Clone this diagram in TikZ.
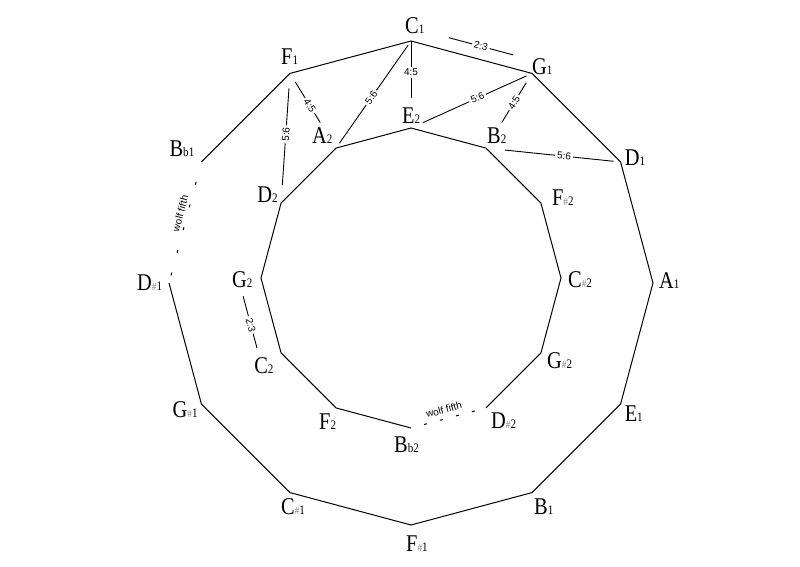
\documentclass[tikz,border=0pt]{standalone}
\usepackage{fontspec}
\setmainfont{Liberation Serif}[FakeStretch=0.85]
\setsansfont{Liberation Sans}
\usetikzlibrary{positioning,calc}

\newcommand\sub[1]{{\fontsize{13}{13}\selectfont #1}}
\newcommand\shp{{\color{gray}\fontsize{11}{11}\selectfont\#}}

\tikzset{
  note/.style={font=\fontsize{24}{24}\selectfont, anchor=base west, inner sep=1pt},
  ring/.style={line width=1pt},
  interval/.style={line width=0.9pt},
  ratio/.style={font=\sffamily\fontsize{10}{10}\selectfont, fill=white, inner sep=2pt},
  wolf/.style={line width=1pt, dash pattern=on 3pt off #1, dash phase=3pt},
  wolflabel/.style={font=\sffamily\fontsize{10}{10}\selectfont, inner sep=1pt},
}

\begin{document}
\begin{tikzpicture}[x=1pt, y=1pt]
  \useasboundingbox (-411,-283) rectangle (389,283);

  % outer circle
  \coordinate (oC) at (90:242);
  \coordinate (oG) at (60:242);
  \coordinate (oD) at (30:242);
  \coordinate (oA) at (0:242);
  \coordinate (oE) at (-30:242);
  \coordinate (oB) at (-60:242);
  \coordinate (oFs) at (-90:242);
  \coordinate (oCs) at (-120:242);
  \coordinate (oGs) at (-150:242);
  \coordinate (oDs) at (180:242);
  \coordinate (oBb) at (150:242);
  \coordinate (oF) at (120:242);

  % inner circle
  \begin{scope}[yshift=5pt]
    \coordinate (iE) at (90:150);
    \coordinate (iB) at (60:150);
    \coordinate (iFs) at (30:150);
    \coordinate (iCs) at (0:150);
    \coordinate (iGs) at (-30:150);
    \coordinate (iDs) at (-60:150);
    \coordinate (iBb) at (-90:150);
    \coordinate (iF) at (-120:150);
    \coordinate (iC) at (-150:150);
    \coordinate (iG) at (180:150);
    \coordinate (iD) at (150:150);
    \coordinate (iA) at (120:150);
  \end{scope}

  \node[note] (C1) at ([shift={(-7,8)}]oC) {C\sub1};
  \node[note] (G1) at ([shift={(-1,-1)}]oG) {G\sub1};
  \node[note] (D1) at ([shift={(3,-3)}]oD) {D\sub1};
  \node[note] (A1) at ([shift={(5,-5)}]oA) {A\sub1};
  \node[note] (E1) at ([shift={(3,-17)}]oE) {E\sub1};
  \node[note] (B1) at ([shift={(1,-22)}]oB) {B\sub1};
  \node[note] (Fs1) at ([shift={(-6,-26)}]oFs) {F\shp\sub1};
  \node[note] (Cs1) at ([shift={(-10,-22)}]oCs) {C\shp\sub1};
  \node[note] (Gs1) at ([shift={(-30,-13)}]oGs) {G\shp\sub1};
  \node[note] (Ds1) at ([shift={(-33,-7)}]oDs) {D\shp\sub1};
  \node[note] (Bb1) at ([shift={(-33,6)}]oBb) {B\sub{b1}};
  \node[note] (F1) at ([shift={(-10,9)}]oF) {F\sub1};

  \node[note] (E2) at ([shift={(-10,5)}]iE) {E\sub2};
  \node[note] (B2) at ([shift={(0,5)}]iB) {B\sub2};
  \node[note] (Fs2) at ([shift={(10,-2)}]iFs) {F\shp\sub2};
  \node[note] (Cs2) at ([shift={(6,-9)}]iCs) {C\shp\sub2};
  \node[note] (Gs2) at ([shift={(5,-15)}]iGs) {G\shp\sub2};
  \node[note] (Ds2) at ([shift={(4,-21)}]iDs) {D\shp\sub2};
  \node[note] (Bb2) at ([shift={(-18,-24)}]iBb) {B\sub{b2}};
  \node[note] (F2) at ([shift={(-18,-22)}]iF) {F\sub2};
  \node[note] (C2) at ([shift={(-28,-20)}]iC) {C\sub2};
  \node[note] (G2) at ([shift={(-30,-9)}]iG) {G\sub2};
  \node[note] (D2) at ([shift={(-25,1)}]iD) {D\sub2};
  \node[note] (A2) at ([shift={(-25,5)}]iA) {A\sub2};

  % the two rings, open at the wolf
  \draw[ring] (oDs) -- (oGs) -- (oCs) -- (oFs) -- (oB) -- (oE) -- (oA)
    -- (oD) -- (oG) -- (oC) -- (oF) -- (oBb);
  \draw[ring] (iDs) -- (iGs) -- (iCs) -- (iFs) -- (iB) -- (iE) -- (iA)
    -- (iD) -- (iG) -- (iC) -- (iF) -- (iBb);
  \draw[wolf=20.5pt] (oBb) -- node[wolflabel, sloped, above=2pt, pos=.44] (wolfO) {wolf fifth} (oDs);
  \draw[wolf=13.5pt] (iBb) -- node[wolflabel, sloped, above=4pt, pos=.47] (wolfI) {wolf fifth} (iDs);

  % thirds
  \draw[interval, shorten >=30pt] (oC) -- node[ratio, pos=.36] (rCE) {4:5} (iE);
  \draw[interval, shorten <=5pt, shorten >=6pt] (oC) -- node[ratio, sloped, pos=.53] (rCA) {5:6} (iA);
  \draw[interval, shorten <=10pt, shorten >=30pt] (oF) -- node[ratio, sloped, pos=.43] (rFA) {4:5} (iA);
  \draw[interval, shorten <=15pt, shorten >=18pt] (oF) -- node[ratio, sloped, pos=.47] (rFD) {5:6} (iD);
  \draw[interval, shorten <=13pt, shorten >=6pt] (iE) -- node[ratio, sloped, pos=.55] (rEG) {5:6} (oG);
  \draw[interval, shorten <=11pt, shorten >=30pt] (oG) -- node[ratio, sloped, pos=.39] (rGB) {4:5} (iB);
  \draw[interval, shorten <=19pt, shorten >=7pt] (iB) -- node[ratio, sloped, pos=.58] (rBD) {5:6} (oD);

  % fifths beside the rings
  \draw[interval, shorten <=36pt, shorten >=23pt] ($(oC)!13pt!90:(oG)$)
    -- node[ratio, sloped, pos=.55] (rCG) {2:3} ($(oG)!13pt!-90:(oC)$);
  \draw[interval, shorten <=13pt, shorten >=11pt] ($(iG)!22pt!-90:(iC)$)
    -- node[ratio, sloped, pos=.55] (rGC) {2:3} ($(iC)!22pt!90:(iG)$);
\end{tikzpicture}
\end{document}
